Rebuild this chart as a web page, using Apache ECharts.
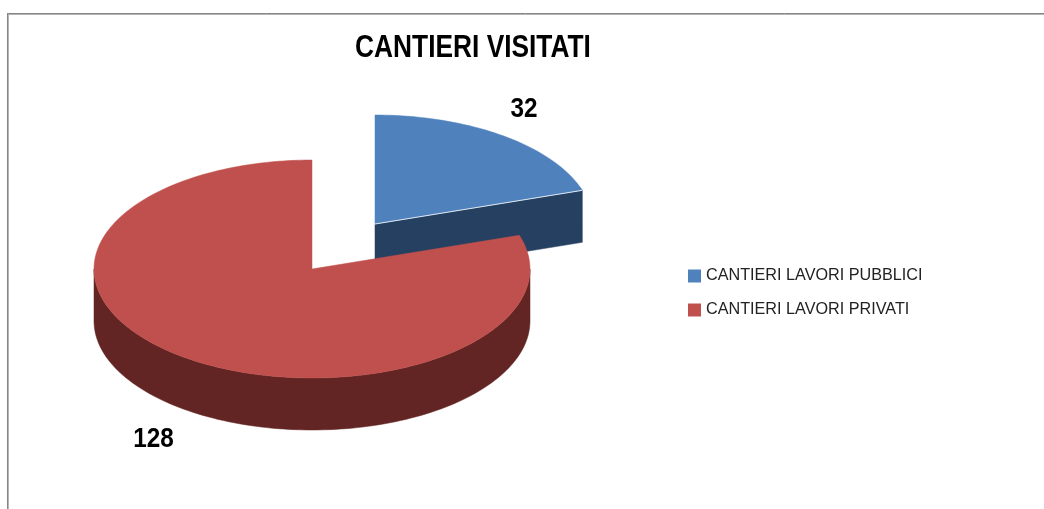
<!DOCTYPE html>
<html>
<head>
<meta charset="utf-8">
<style>html,body{margin:0;padding:0;background:#fff}#c{width:1044px;height:509px}</style>
<script src="https://cdn.jsdelivr.net/npm/echarts@6/dist/echarts.min.js"></script>
</head>
<body>
<div id="c"></div>
<script>
const categories = ['CANTIERI LAVORI PUBBLICI', 'CANTIERI LAVORI PRIVATI'];
const values = [32, 128];
const chartTitle = 'CANTIERI VISITATI';

const topColors = ['#4F81BD', '#C0504D'];
const sideColors = ['#254061', '#632523'];
const centers = [[375, 224], [312, 269]];
const labelPos = [[524, 110], [153.5, 440]];
const RX = 218, RY = 109, DEPTH = 52;
const FONT = '"Liberation Sans",sans-serif';

const total = values.reduce((a, b) => a + b, 0);
function pt(c, deg, dy) {
  const t = deg * Math.PI / 180;
  return [c[0] + RX * Math.sin(t), c[1] - RY * Math.cos(t) + (dy || 0)];
}
function arc(c, from, to, dy) {
  const out = [];
  const n = Math.max(2, Math.ceil(Math.abs(to - from) / 1.5));
  for (let i = 0; i <= n; i++) out.push(pt(c, from + (to - from) * i / n, dy));
  return out;
}
function renderSlice(idx) {
  return function (params, api) {
    const v = api.value(0);
    let before = 0;
    for (let i = 0; i < idx; i++) before += values[i];
    const a0 = before / total * 360, a1 = (before + v) / total * 360;
    const c = centers[idx], children = [];
    const poly = (points, fill) => children.push({
      type: 'polygon', shape: { points }, style: { fill, stroke: fill, lineWidth: 0.5 }
    });
    [[a0, -1], [a1, 1]].forEach(([a, dir]) => {
      if (Math.sin(a * Math.PI / 180) * dir > 0.001) {
        const e = pt(c, a);
        poly([c, e, [e[0], e[1] + DEPTH], [c[0], c[1] + DEPTH]], sideColors[idx]);
      }
    });
    const w0 = Math.max(a0, 90), w1 = Math.min(a1, 270);
    if (w1 > w0) poly(arc(c, w0, w1).concat(arc(c, w1, w0, DEPTH)), sideColors[idx]);
    poly([c].concat(arc(c, a0, a1)), topColors[idx]);
    if (idx === 0) {
      const e = pt(c, a1);
      children.push({ type: 'line', shape: { x1: c[0], y1: c[1], x2: e[0], y2: e[1] },
        style: { stroke: '#dfe7f1', lineWidth: 1 } });
    }
    children.push({ type: 'text', x: labelPos[idx][0], y: labelPos[idx][1], scaleX: 0.9, style: {
      x: 0, y: 0, text: String(v), fill: '#000',
      font: 'bold 27px ' + FONT, textAlign: 'center', textVerticalAlign: 'middle'
    }});
    return { type: 'group', children };
  };
}
const chart = echarts.init(document.getElementById('c'), null, { renderer: 'canvas' });
chart.setOption({
  animation: false,
  backgroundColor: '#fff',
  legend: {
    orient: 'vertical', left: 688, top: 268, itemWidth: 13, itemHeight: 13, itemGap: 18,
    padding: 0, selectedMode: false, icon: 'rect',
    data: categories,
    textStyle: { fontFamily: FONT, fontSize: 16.2, color: '#222' }
  },
  graphic: [
    { type: 'text', silent: true, x: 473, y: 48.5, scaleX: 0.822, style: {
      x: 0, y: 0, text: chartTitle, fill: '#000', font: 'bold 32px ' + FONT,
      textAlign: 'center', textVerticalAlign: 'middle' } },
    { type: 'line', silent: true, shape: { x1: 7, y1: 13.5, x2: 1044, y2: 13.5 }, style: { stroke: '#868686', lineWidth: 1 } },
    { type: 'line', silent: true, shape: { x1: 8, y1: 14.5, x2: 1044, y2: 14.5 }, style: { stroke: '#b4b4b4', lineWidth: 1 } },
    { type: 'line', silent: true, shape: { x1: 7.5, y1: 13, x2: 7.5, y2: 509 }, style: { stroke: '#868686', lineWidth: 1 } },
    { type: 'line', silent: true, shape: { x1: 8.5, y1: 14, x2: 8.5, y2: 509 }, style: { stroke: '#b4b4b4', lineWidth: 1 } }
  ],
  series: categories.map((name, i) => ({
    type: 'custom', name, coordinateSystem: 'none', silent: true,
    itemStyle: { color: topColors[i] },
    data: [[values[i]]],
    renderItem: renderSlice(i)
  }))
});
</script>
</body>
</html>
